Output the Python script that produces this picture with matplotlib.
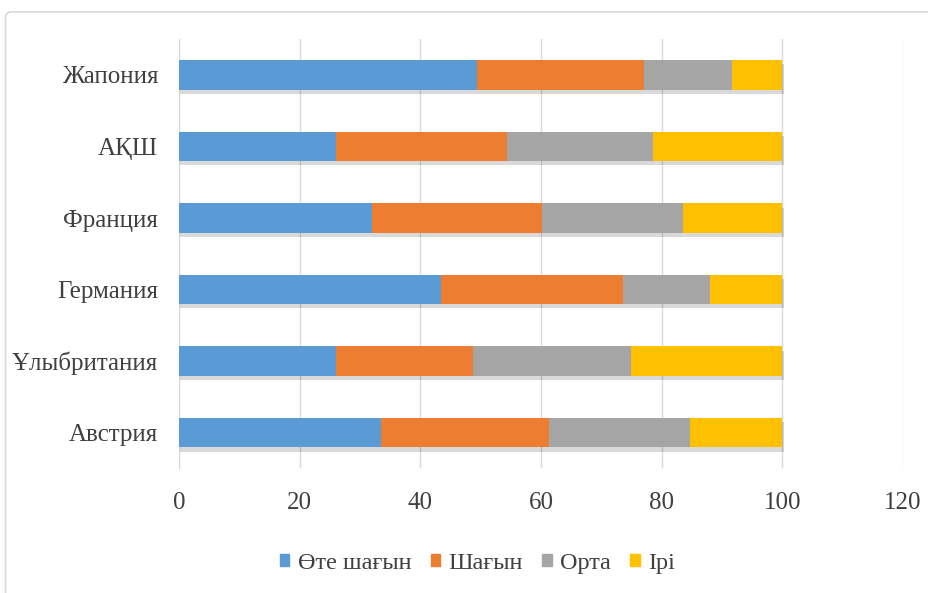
import matplotlib
matplotlib.use("Agg")
import matplotlib.pyplot as plt
import matplotlib.patheffects as pe
from matplotlib.patches import FancyBboxPatch, Patch
import numpy as np

#
# Data
#

countries = ["Австрия", "Ұлыбритания", "Германия", "Франция", "АҚШ", "Жапония"]
series_names = ["Өте шағын", "Шағын", "Орта", "Ірі"]
very_small = [33.5, 26.1, 43.4, 32.0, 26.1, 49.4]
small = [27.9, 22.7, 30.2, 28.1, 28.3, 27.7]
medium = [23.3, 26.1, 14.4, 23.5, 24.2, 14.6]
large = [15.3, 25.1, 12.0, 16.4, 21.4, 8.3]
colors = ["#5B9BD5", "#ED7D31", "#A5A5A5", "#FFC000"]
x_ticks = [0, 20, 40, 60, 80, 100, 120]

#
# Graph
#

plt.rcParams["font.family"] = ["Liberation Serif", "DejaVu Serif"]

fig = plt.figure(figsize=(9.29, 5.93), dpi=100)
ax = fig.add_axes([0.1927, 0.21, 0.7793, 0.724])

# Chart border
fig.patches.append(
    FancyBboxPatch((0.006, -0.05), 1.05, 1.03, boxstyle="round,pad=0,rounding_size=0.008",
                   transform=fig.transFigure, facecolor="none", edgecolor="#D9D9D9", linewidth=1.2)
)

y = np.arange(len(countries))
left = np.zeros(len(countries))
shadow = [pe.SimplePatchShadow(offset=(1, -3), shadow_rgbFace="#000000", alpha=0.15), pe.Normal()]
for name, values, color in zip(series_names, [very_small, small, medium, large], colors):
    ax.barh(y, values, left=left, height=0.41, color=color, zorder=3, path_effects=shadow)
    left = left + np.array(values)

ax.set_xlim(0, 120)
ax.set_ylim(-0.5, len(countries) - 0.5)
ax.set_xticks(x_ticks)
ax.set_yticks(y)
ax.set_yticklabels(countries)
ax.grid(axis="x", color="#D9D9D9", linewidth=1, zorder=0)
ax.tick_params(axis="both", length=0, labelsize=18, labelcolor="#404040")
ax.tick_params(axis="x", pad=17)
ax.tick_params(axis="y", pad=15)
for side in ["top", "right", "bottom"]:
    ax.spines[side].set_visible(False)
ax.spines["left"].set_color("#D9D9D9")

handles = [Patch(color=c, label=n) for n, c in zip(series_names, colors)]
fig.legend(handles=handles, loc="center", bbox_to_anchor=(0.514, 0.05), ncol=4, frameon=False, fontsize=17.5,
           handlelength=0.38, handleheight=0.38, handletextpad=0.35, columnspacing=0.8,
           labelcolor="#404040")

fig.savefig("out.png", dpi=100)
